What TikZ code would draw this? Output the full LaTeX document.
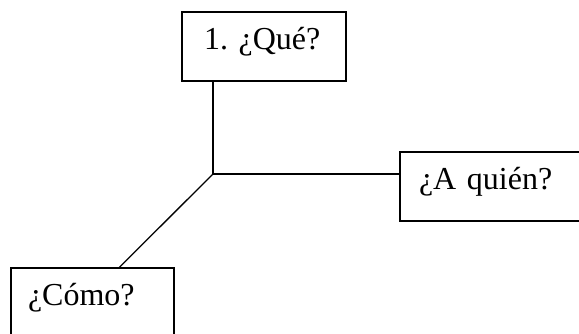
\documentclass[tikz,border=0pt]{standalone}
\usepackage{fontspec}
\setmainfont{Liberation Serif}
\frenchspacing
\begin{document}
\begin{tikzpicture}[x=1pt,y=1pt,
  qbox/.style={draw, line width=1.3pt, rectangle, align=left,
    minimum height=69pt, inner ysep=0pt,
    text height=0.8em, text depth=0.2em,
    font=\fontsize{32}{38}\selectfont},
  link/.style={line width=1.3pt}]
  \useasboundingbox (0,0) rectangle (579,-334);
  % question boxes
  \node[qbox, inner xsep=22pt, text width=120pt, minimum width=164pt]
    (que) at (264,-46.5) {1. ¿Qué?};
  \node[qbox, inner xsep=19pt, text width=142pt, minimum width=180pt]
    (quien) at (490,-186.5) {¿A quién?};
  \node[qbox, inner xsep=17pt, text width=129pt, minimum width=163pt]
    (como) at (92.5,-302.5) {¿Cómo?};
  % branching connectors
  \coordinate (hub) at (213,-174);
  \coordinate (comoend) at ([xshift=109pt]como.north west);
  \draw[link] (que.south -| hub) -- (hub);
  \draw[link] (hub) -- (quien.west |- hub);
  \draw[link] (hub) -- (comoend);
\end{tikzpicture}
\end{document}
